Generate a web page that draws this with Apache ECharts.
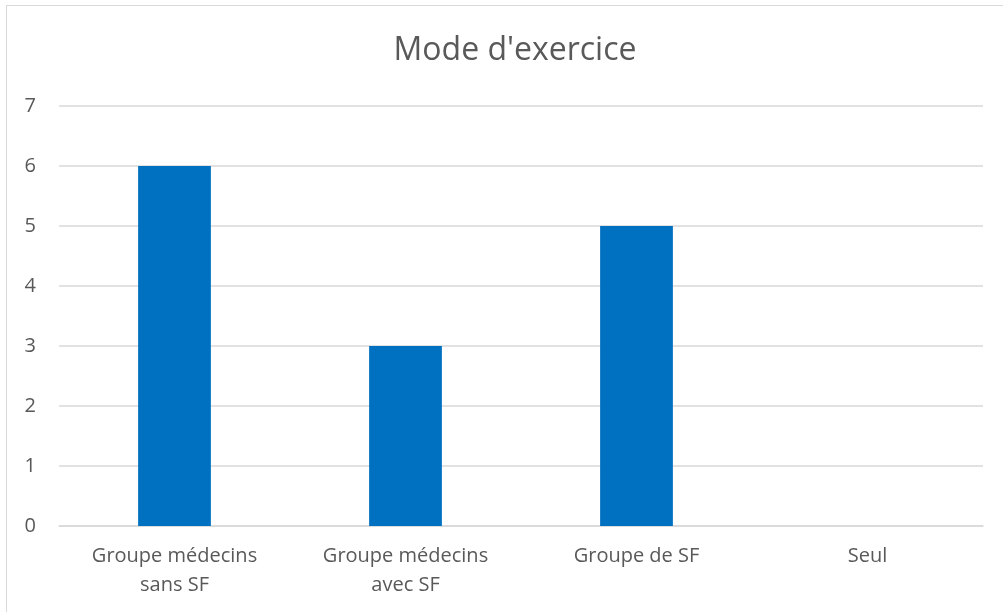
<!DOCTYPE html>
<html>
<head>
<meta charset="utf-8">
<script src="https://cdn.jsdelivr.net/npm/echarts@6/dist/echarts.min.js"></script>
<style>
  html, body { margin: 0; padding: 0; background: #fff; overflow: hidden; }
  #frame { position: absolute; left: 6px; top: 5px; width: 1020px; height: 640px; border: 1.5px solid #d9d9d9; box-sizing: border-box; }
  #chart { position: absolute; left: 0; top: 0; width: 1003px; height: 612px; }
</style>
</head>
<body>
<div id="frame"></div>
<div id="chart"></div>
<script>
const categories = ['Groupe médecins\nsans SF', 'Groupe médecins\navec SF', 'Groupe de SF', 'Seul'];
const counts = [6, 3, 5, 0];
const yMin = 0, yMax = 7, yStep = 1;

const font = '"Open Sans", "Liberation Sans", sans-serif';
const myChart = echarts.init(document.getElementById('chart'));
const option = {
  animation: false,
  title: {
    text: "Mode d'exercice",
    left: 510,
    textAlign: 'center',
    top: 30,
    textStyle: { fontFamily: font, fontSize: 32, fontWeight: 'normal', color: '#595959' }
  },
  grid: { left: 59, right: 20, top: 106, bottom: 86 },
  xAxis: {
    type: 'category',
    data: categories,
    axisLine: { lineStyle: { color: '#d9d9d9', width: 1.5 } },
    axisTick: { show: false },
    axisLabel: { fontFamily: font, fontSize: 20, color: '#595959', margin: 16, lineHeight: 29 }
  },
  yAxis: {
    type: 'value',
    min: yMin, max: yMax, interval: yStep,
    axisLine: { show: false },
    axisTick: { show: false },
    splitLine: { lineStyle: { color: '#d9d9d9', width: 1.5 } },
    axisLabel: { fontFamily: font, fontSize: 20, color: '#595959', margin: 23 }
  },
  series: [{
    type: 'bar',
    data: counts,
    barWidth: '31.5%',
    itemStyle: { color: '#0070c0' }
  }]
};
myChart.setOption(option);
</script>
</body>
</html>
